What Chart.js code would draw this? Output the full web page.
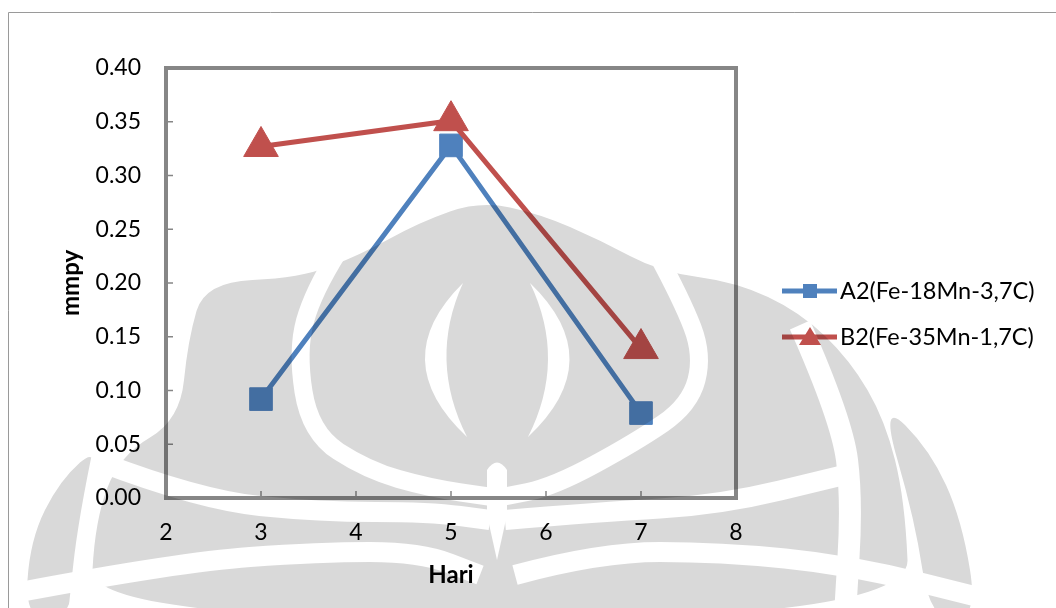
<!DOCTYPE html>
<html>
<head>
<meta charset="utf-8">
<script src="https://cdn.jsdelivr.net/npm/chart.js@4/dist/chart.umd.min.js"></script>
<style>
  html, body { margin: 0; padding: 0; background: #fff; }
</style>
</head>
<body>
<canvas id="chart" width="1056" height="608"></canvas>
<script>
// data
const days = [3, 5, 7];
const seriesA2 = [0.092, 0.328, 0.079];
const seriesB2 = [0.327, 0.351, 0.139];
const seriesNames = ['A2(Fe-18Mn-3,7C)', 'B2(Fe-35Mn-1,7C)'];
const xTitle = 'Hari';
const yTitle = 'mmpy';

const blue = '#4f81bd';
const red = '#c0504d';
const frameColor = '#868686';
const fontFamily = 'Lato, "Open Sans", sans-serif';

const toPoints = (xs, ys) => xs.map((x, i) => ({ x: x, y: ys[i] }));

// smooth path through a list of [x, y]
function smoothPath(ctx, pts, closed) {
    const n = pts.length;
    const mid = (a, b) => [(a[0] + b[0]) / 2, (a[1] + b[1]) / 2];
    if (closed) {
        const start = mid(pts[n - 1], pts[0]);
        ctx.moveTo(start[0], start[1]);
        for (let i = 0; i < n; i++) {
            const m = mid(pts[i], pts[(i + 1) % n]);
            ctx.quadraticCurveTo(pts[i][0], pts[i][1], m[0], m[1]);
        }
        ctx.closePath();
    } else {
        ctx.moveTo(pts[0][0], pts[0][1]);
        for (let i = 1; i < n - 1; i++) {
            const m = mid(pts[i], pts[i + 1]);
            ctx.quadraticCurveTo(pts[i][0], pts[i][1], m[0], m[1]);
        }
        ctx.lineTo(pts[n - 1][0], pts[n - 1][1]);
    }
}

// faint page watermark that sits over the whole picture in the scan
function buildWatermark(w, h) {
    const c = document.createElement('canvas');
    c.width = w;
    c.height = h;
    const g = c.getContext('2d');
    g.fillStyle = 'rgb(217,217,217)';

    g.beginPath();
    smoothPath(g, [
        [480, 201], [540, 214], [600, 240], [660, 272], [736, 282], [800, 312], [850, 360],
        [885, 420], [905, 500], [910, 620], [90, 620], [95, 520], [120, 455],
        [180, 420], [188, 340], [205, 282], [300, 278], [360, 255], [420, 222]
    ], true);
    g.fill();

    // outer side petals
    g.beginPath();
    smoothPath(g, [[25, 620], [30, 540], [60, 480], [100, 445], [82, 520], [72, 620]], true);
    g.fill();
    g.beginPath();
    smoothPath(g, [[880, 400], [930, 450], [962, 520], [978, 620], [930, 620], [915, 520]], true);
    g.fill();

    g.globalCompositeOperation = 'destination-out';
    g.lineCap = 'butt';
    g.lineJoin = 'round';
    const band = (pts, width) => {
        g.lineWidth = width;
        g.beginPath();
        smoothPath(g, pts, false);
        g.stroke();
    };
    // inner onion outline
    band([[338, 252], [313, 292], [297, 350], [310, 433], [367, 470], [430, 488], [492, 497]], 18);
    band([[656, 252], [682, 300], [703, 355], [690, 405], [636, 442], [553, 487], [502, 497]], 18);
    // lower sweeping bands
    band([[100, 462], [200, 500], [320, 512], [430, 512], [490, 520]], 20);
    band([[505, 520], [600, 512], [720, 505], [840, 476]], 20);
    band([[20, 592], [180, 562], [320, 552], [420, 552], [480, 575]], 20);
    band([[515, 575], [600, 552], [720, 552], [850, 565], [990, 600]], 20);
    // side bands
    band([[102, 440], [85, 520], [75, 615]], 14);
    band([[800, 325], [842, 420], [852, 500], [845, 615]], 22);

    // inner crescents and the centre stem
    g.fillStyle = '#000';
    g.beginPath();
    g.moveTo(463, 283);
    g.quadraticCurveTo(385, 360, 467, 437);
    g.quadraticCurveTo(428, 360, 463, 283);
    g.fill();
    g.beginPath();
    g.moveTo(530, 283);
    g.quadraticCurveTo(610, 360, 528, 437);
    g.quadraticCurveTo(567, 360, 530, 283);
    g.fill();
    g.beginPath();
    g.moveTo(487, 470);
    g.quadraticCurveTo(497, 455, 507, 470);
    g.lineTo(507, 515);
    g.lineTo(497, 560);
    g.lineTo(487, 515);
    g.closePath();
    g.fill();
    return c;
}

// plot frame with inward tick marks (Excel style)
const framePlugin = {
    id: 'frame',
    beforeDraw(chart) {
        const ctx = chart.ctx;
        ctx.save();
        ctx.strokeStyle = '#9a9a9a';
        ctx.lineWidth = 1;
        ctx.beginPath();
        ctx.moveTo(8.5, 700);
        ctx.lineTo(8.5, 12.5);
        ctx.lineTo(1100, 12.5);
        ctx.stroke();
        ctx.restore();
    },
    beforeDatasetsDraw(chart) {
        const { ctx, chartArea: a, scales } = chart;
        ctx.save();
        ctx.strokeStyle = frameColor;
        ctx.lineWidth = 1.5;
        ctx.beginPath();
        scales.x.ticks.forEach(t => {
            const px = scales.x.getPixelForValue(t.value);
            ctx.moveTo(px, a.bottom);
            ctx.lineTo(px, a.bottom - 7);
        });
        scales.y.ticks.forEach(t => {
            const py = scales.y.getPixelForValue(t.value);
            ctx.moveTo(a.left, py);
            ctx.lineTo(a.left + 7, py);
        });
        ctx.stroke();
        ctx.lineWidth = 4;
        ctx.strokeRect(a.left, a.top, a.right - a.left, a.bottom - a.top);
        ctx.restore();
    }
};

// legend: line with marker, then label
const legendPlugin = {
    id: 'sideLegend',
    afterDraw(chart) {
        const ctx = chart.ctx;
        const rows = [291, 337];
        ctx.save();
        chart.data.datasets.forEach((ds, i) => {
            const y = rows[i];
            ctx.strokeStyle = ds.borderColor;
            ctx.lineWidth = 5;
            ctx.beginPath();
            ctx.moveTo(782, y);
            ctx.lineTo(837, y);
            ctx.stroke();
            ctx.fillStyle = ds.borderColor;
            ctx.beginPath();
            if (ds.pointStyle === 'rect') {
                ctx.rect(803, y - 7, 14, 14);
            } else {
                ctx.moveTo(810, y - 10);
                ctx.lineTo(821, y + 8);
                ctx.lineTo(799, y + 8);
                ctx.closePath();
            }
            ctx.fill();
            ctx.fillStyle = '#000';
            ctx.font = '23.5px ' + fontFamily;
            ctx.textBaseline = 'middle';
            ctx.textAlign = 'left';
            ctx.fillText(ds.label, 840, y);
        });
        ctx.restore();

        // watermark multiplied over everything
        ctx.save();
        ctx.globalCompositeOperation = 'multiply';
        ctx.drawImage(buildWatermark(chart.width, chart.height), 0, 0);
        ctx.restore();
    }
};

new Chart(document.getElementById('chart').getContext('2d'), {
    type: 'scatter',
    data: {
        datasets: [
            {
                label: seriesNames[0],
                data: toPoints(days, seriesA2),
                showLine: true,
                borderColor: blue,
                backgroundColor: blue,
                borderWidth: 5,
                pointStyle: 'rect',
                pointRadius: 16,
                pointBorderWidth: 1,
                order: 2
            },
            {
                label: seriesNames[1],
                data: toPoints(days, seriesB2),
                showLine: true,
                borderColor: red,
                backgroundColor: red,
                borderWidth: 5,
                pointStyle: 'triangle',
                pointRadius: 20,
                pointBorderWidth: 1,
                order: 1
            }
        ]
    },
    options: {
        responsive: false,
        animation: false,
        layout: { padding: { left: 0, top: 68, right: 320, bottom: 0 } },
        plugins: {
            legend: { display: false },
            tooltip: { enabled: false }
        },
        scales: {
            x: {
                type: 'linear',
                min: 2,
                max: 8,
                grid: { display: false, drawTicks: false },
                border: { display: false },
                ticks: {
                    stepSize: 1,
                    padding: 21,
                    color: '#000',
                    font: { family: fontFamily, size: 23 }
                },
                title: {
                    display: true,
                    text: xTitle,
                    color: '#000',
                    font: { family: fontFamily, size: 24, weight: 'bold' },
                    padding: { bottom: 18 }
                },
                afterFit: s => { s.height = 110; }
            },
            y: {
                type: 'linear',
                min: 0,
                max: 0.4,
                grid: { display: false, drawTicks: false },
                border: { display: false },
                ticks: {
                    stepSize: 0.05,
                    padding: 25,
                    color: '#000',
                    font: { family: fontFamily, size: 23 },
                    callback: v => v.toFixed(2)
                },
                title: {
                    display: true,
                    text: yTitle,
                    color: '#000',
                    font: { family: fontFamily, size: 24, weight: 'bold' },
                    padding: { top: 57 }
                },
                afterFit: s => { s.width = 166; }
            }
        }
    },
    plugins: [framePlugin, legendPlugin]
});
</script>
</body>
</html>
